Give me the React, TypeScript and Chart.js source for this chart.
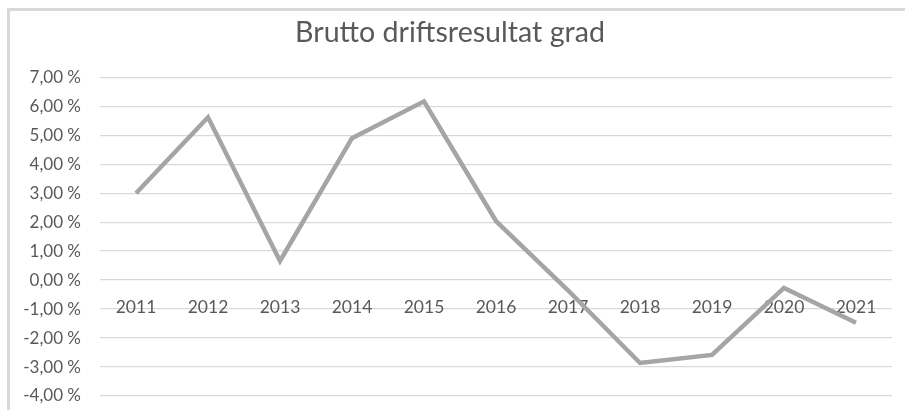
import React, { useEffect, useRef } from "react";
import { Chart, registerables } from "chart.js";

Chart.register(...registerables);

const TITLE = "Brutto driftsresultat grad";
const YEARS = ["2011", "2012", "2013", "2014", "2015", "2016", "2017", "2018", "2019", "2020", "2021"];
const VALUES = [3.0, 5.62, 0.66, 4.9, 6.17, 2.04, -0.35, -2.86, -2.58, -0.27, -1.47];
const Y_MIN = -4;
const Y_MAX = 7;
const Y_STEP = 1;

const FONT = "Lato, 'Open Sans', sans-serif";
const TEXT = "#595959";

export default function App() {
  const ref = useRef<HTMLCanvasElement | null>(null);

  useEffect(() => {
    if (!ref.current) return;
    const chart = new Chart(ref.current, {
      type: "line",
      data: {
        labels: YEARS,
        datasets: [
          {
            data: VALUES,
            borderColor: "#a5a5a5",
            borderWidth: 4.5,
            pointRadius: 0,
            tension: 0,
            fill: false,
          },
        ],
      },
      options: {
        animation: false,
        responsive: false,
        maintainAspectRatio: false,
        layout: { padding: { left: 8, right: 13, top: 0, bottom: 14 } },
        plugins: {
          legend: { display: false },
          tooltip: { enabled: false },
          title: {
            display: true,
            text: TITLE,
            color: TEXT,
            font: { family: FONT, size: 28.6, weight: "normal", lineHeight: 1.2 },
            padding: { top: 16, bottom: 27 },
          },
        },
        scales: {
          x: {
            type: "category",
            offset: true,
            position: { y: 0 } as any,
            afterFit: (s: any) => {
              s.paddingTop = 0;
              s.paddingBottom = 0;
            },
            grid: { display: false, drawTicks: false },
            border: { display: false },
            ticks: {
              color: TEXT,
              font: { family: FONT, size: 17.5 },
              padding: 17,
              maxRotation: 0,
              autoSkip: false,
            },
          },
          y: {
            min: Y_MIN,
            max: Y_MAX,
            afterFit: (s: any) => {
              s.width = 92;
              s.paddingTop = 0;
              s.paddingBottom = 0;
            },
            grid: { color: "#d9d9d9", lineWidth: 1.3, drawTicks: false },
            border: { display: false },
            ticks: {
              stepSize: Y_STEP,
              color: TEXT,
              padding: 19,
              font: { family: FONT, size: 17 },
              callback: (v: any) => Number(v).toFixed(2).replace(".", ",") + " %",
            },
          },
        },
      },
    });
    return () => chart.destroy();
  }, []);

  return (
    <div style={{ position: "fixed", left: 0, top: 0, width: 905, height: 410, background: "#fff", overflow: "hidden" }}>
      <div
        style={{
          position: "absolute",
          left: 7,
          top: 8,
          width: 1000,
          height: 1000,
          borderLeft: "3px solid #d9d9d9",
          borderTop: "3px solid #d9d9d9",
        }}
      />
      <canvas ref={ref} width={905} height={410} style={{ position: "absolute", left: 0, top: 0 }} />
    </div>
  );
}
